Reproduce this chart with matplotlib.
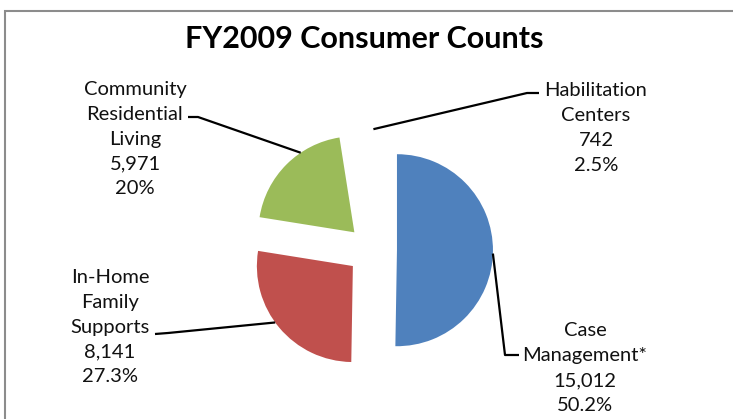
import numpy as np
import matplotlib
matplotlib.use('Agg')
import matplotlib.pyplot as plt
from matplotlib.patches import Rectangle

# data
categories = ['Case\nManagement*', 'In-Home\nFamily\nSupports',
              'Community\nResidential\nLiving', 'Habilitation\nCenters']
counts = [15012, 8141, 5971, 742]
pct_labels = ['50.2%', '27.3%', '20%', '2.5%']
colors = ['#4F81BD', '#C0504D', '#9BBB59', 'white']

W, H = 733, 419
plt.rcParams['font.family'] = ['Lato', 'DejaVu Sans']

fig = plt.figure(figsize=(W / 100, H / 100), dpi=100)
ax = fig.add_axes([0, 0, 1, 1])

def py(y):
    # pixel row -> data y
    return H - y

R = 96
wedges, _ = ax.pie(counts, center=(372, py(250)), radius=R, startangle=90,
                   counterclock=False, explode=[0.26 * R] * len(counts),
                   colors=colors, wedgeprops=dict(linewidth=0))
ax.set_xlim(0, W)
ax.set_ylim(0, H)
ax.set_aspect('equal')
ax.axis('off')

# chart frame (runs off the right and bottom edges)
ax.add_patch(Rectangle((5, -10), W + 20, py(11) + 10, fill=False,
                       edgecolor='#8c8c8c', linewidth=1.5))

ax.text(364, py(39), 'FY2009 Consumer Counts', ha='center', va='center',
        fontsize=22, fontweight='bold')

# label centres, leader line start/elbow, anchor angle on the wedge edge
label_pos = [(585, 368), (110, 327), (135, 139), (596, 128)]
leader_pts = [[(519, 355), (505, 355)], [(155, 334), (168, 333)],
              [(188, 117), (198, 117)], [(539, 93), (527, 93)]]
anchor_deg = [-2, 216, 124, 88]

for i, w in enumerate(wedges):
    txt = '%s\n%s\n%s' % (categories[i], format(counts[i], ','), pct_labels[i])
    x, y = label_pos[i]
    ax.text(x, py(y), txt, ha='center', va='center', fontsize=14.5,
            linespacing=1.57, color='#111111')
    cx, cy = w.center
    a = np.deg2rad(anchor_deg[i])
    xs = [p[0] for p in leader_pts[i]] + [cx + w.r * np.cos(a)]
    ys = [py(p[1]) for p in leader_pts[i]] + [cy + w.r * np.sin(a)]
    ax.plot(xs, ys, color='black', linewidth=1.6, solid_capstyle='butt')

fig.savefig('out.png', dpi=100)
